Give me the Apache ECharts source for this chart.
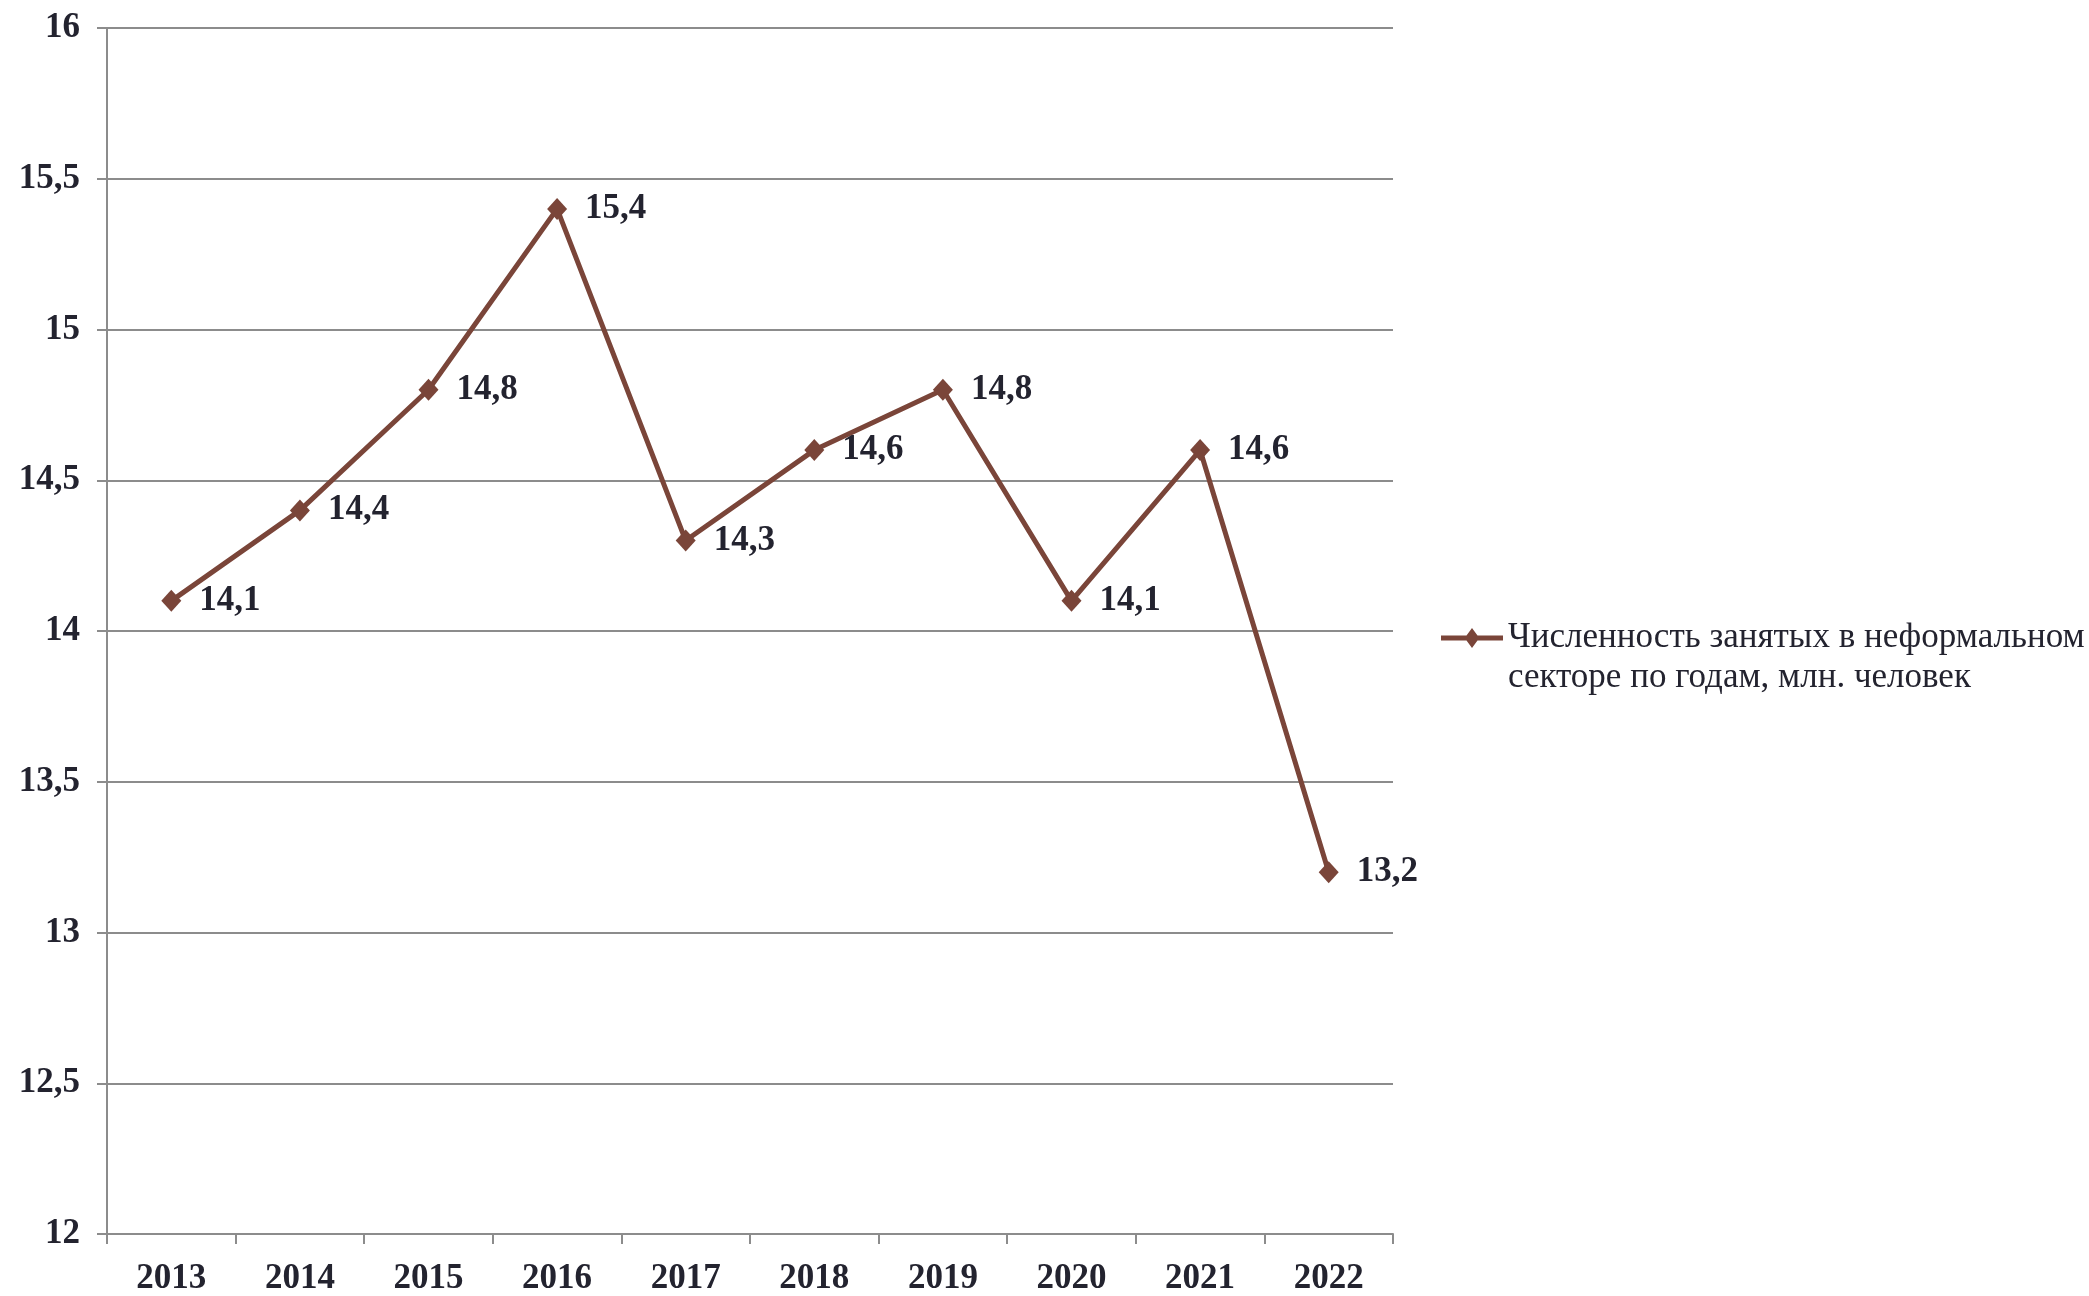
<!DOCTYPE html>
<html><head><meta charset="utf-8">
<script src="https://cdn.jsdelivr.net/npm/echarts@6/dist/echarts.min.js"></script>
<style>html,body{margin:0;padding:0;background:#fff}#c{width:2089px;height:1296px}</style>
</head><body><div id="c"></div>
<script>
var years = ['2013','2014','2015','2016','2017','2018','2019','2020','2021','2022'];
var values = [14.1,14.4,14.8,15.4,14.3,14.6,14.8,14.1,14.6,13.2];
var seriesName = 'Численность занятых в неформальном\nсекторе по годам, млн. человек';
var fmt = function(v){ return String(v).replace('.', ','); };
var chart = echarts.init(document.getElementById('c'), null, {renderer:'canvas'});
chart.setOption({
  animation:false,
  backgroundColor:'#fff',
  grid:{left:107,right:696,top:28,bottom:57,containLabel:false},
  legend:{
    show:true, orient:'vertical', left:1436, top:573,
    itemWidth:62, itemHeight:20, itemGap:0,
    formatter:function(n){ return '\n' + n; },
    textStyle:{fontFamily:'Liberation Serif',fontSize:35,color:'#23232f',lineHeight:40},
    data:[{name:seriesName,icon:'path://M0,7.5 L25.5,7.5 L31,0 L36.5,7.5 L62,7.5 L62,12.5 L36.5,12.5 L31,20 L25.5,12.5 L0,12.5 Z',itemStyle:{color:'#7a4539'}}]
  },
  xAxis:{
    type:'category', data:years, boundaryGap:true,
    axisLine:{lineStyle:{color:'#8c8c8c',width:2}},
    axisTick:{show:true,length:10,lineStyle:{color:'#8c8c8c',width:2}},
    axisLabel:{fontFamily:'Liberation Serif',fontWeight:'bold',fontSize:35,color:'#23232f',margin:27},
    splitLine:{show:false}
  },
  yAxis:{
    type:'value', min:12, max:16, interval:0.5,
    axisLine:{show:true,lineStyle:{color:'#8c8c8c',width:2}},
    axisTick:{show:true,length:10,lineStyle:{color:'#8c8c8c',width:2}},
    axisLabel:{fontFamily:'Liberation Serif',fontWeight:'bold',fontSize:35,color:'#23232f',margin:27,formatter:function(v){return fmt(v);}},
    splitLine:{show:true,lineStyle:{color:'#8c8c8c',width:2}}
  },
  series:[{
    name:seriesName, type:'line', data:values,
    symbol:'diamond', symbolSize:[20,22],
    itemStyle:{color:'#7a4539'},
    lineStyle:{color:'#7a4539',width:5},
    label:{show:true,position:'right',distance:18,fontFamily:'Liberation Serif',fontWeight:'bold',fontSize:35,color:'#23232f',formatter:function(p){return fmt(p.value);}}
  }]
});
</script></body></html>
